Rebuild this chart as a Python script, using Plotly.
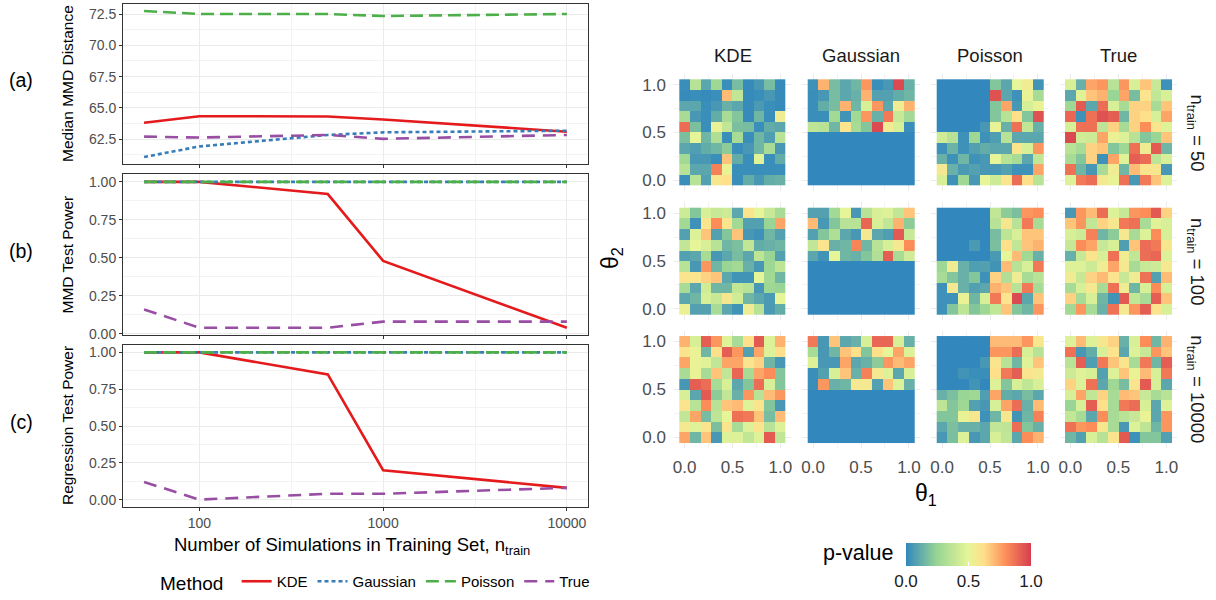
import math
import plotly.graph_objects as go

# ---------------- data: left panels ----------------
n_train = [50, 100, 500, 1000, 10000]
methods = ["KDE", "Gaussian", "Poisson", "True"]

mmd_dist_kde = [63.82, 64.34, 64.32, 64.08, 63.10]
mmd_dist_gauss = [61.08, 61.92, 62.84, 63.05, 63.18]
mmd_dist_poisson = [72.74, 72.50, 72.50, 72.34, 72.50]
mmd_dist_true = [62.71, 62.63, 62.84, 62.53, 62.84]

mmd_power_kde = [1.0, 1.0, 0.92, 0.48, 0.04]
mmd_power_gauss = [1.0, 1.0, 1.0, 1.0, 1.0]
mmd_power_poisson = [1.0, 1.0, 1.0, 1.0, 1.0]
mmd_power_true = [0.16, 0.04, 0.04, 0.08, 0.08]

reg_power_kde = [1.0, 1.0, 0.85, 0.20, 0.08]
reg_power_gauss = [1.0, 1.0, 1.0, 1.0, 1.0]
reg_power_poisson = [1.0, 1.0, 1.0, 1.0, 1.0]
reg_power_true = [0.12, 0.0, 0.04, 0.04, 0.08]

# ---------------- data: p-value grids (rows listed top theta2=1 -> bottom theta2=0) ----------------
theta = [0.0, 0.111, 0.222, 0.333, 0.444, 0.556, 0.667, 0.778, 0.889, 1.0]
theta_ticks = [0.0, 0.5, 1.0]
theta_ticktext = ["0.0", "0.5", "1.0"]
row_labels = ["50", "100", "10000"]

kde_50 = [
    [0.02, 0.35, 0.10, 0.27, 0.02, 0.17, 0.01, 0.05, 0.17, 0.01],
    [0.01, 0.02, 0.01, 0.02, 0.70, 0.38, 0.01, 0.02, 0.05, 0.01],
    [0.10, 0.10, 0.02, 0.05, 0.13, 0.10, 0.01, 0.06, 0.02, 0.01],
    [0.30, 0.05, 0.02, 0.12, 0.30, 0.20, 0.01, 0.15, 0.02, 0.55],
    [0.88, 0.18, 0.02, 0.52, 0.38, 0.18, 0.17, 0.02, 0.12, 0.10],
    [0.18, 0.50, 0.15, 0.32, 0.02, 0.30, 0.02, 0.15, 0.07, 0.35],
    [0.10, 0.07, 0.12, 0.15, 0.22, 0.02, 0.05, 0.15, 0.30, 0.05],
    [0.28, 0.05, 0.05, 0.02, 0.68, 0.12, 0.02, 0.48, 0.02, 0.12],
    [0.35, 0.10, 0.10, 0.83, 0.52, 0.02, 0.02, 0.02, 0.02, 0.02],
    [0.02, 0.35, 0.08, 0.58, 0.62, 0.02, 0.12, 0.05, 0.12, 0.13],
]
gauss_50 = [
    [0.03, 0.72, 0.17, 0.10, 0.15, 0.78, 0.02, 0.05, 0.97, 0.13],
    [0.02, 0.05, 0.17, 0.10, 0.13, 0.72, 0.08, 0.08, 0.12, 0.15],
    [0.02, 0.12, 0.17, 0.72, 0.15, 0.45, 0.78, 0.10, 0.55, 0.72],
    [0.02, 0.02, 0.28, 0.04, 0.28, 0.78, 0.13, 0.85, 0.40, 0.28],
    [0.37, 0.35, 0.15, 0.60, 0.30, 0.20, 0.97, 0.55, 0.45, 0.02],
    [0.0] * 10,
    [0.0] * 10,
    [0.0] * 10,
    [0.0] * 10,
    [0.0] * 10,
]
poisson_50 = [
    [0.0, 0.0, 0.0, 0.0, 0.0, 0.20, 0.10, 0.50, 0.55, 0.04],
    [0.0, 0.0, 0.0, 0.0, 0.0, 0.95, 0.10, 0.03, 0.52, 0.30],
    [0.0, 0.0, 0.0, 0.0, 0.0, 0.20, 0.75, 0.05, 0.45, 0.52],
    [0.0, 0.0, 0.0, 0.0, 0.0, 0.20, 0.35, 0.62, 0.20, 0.95],
    [0.0, 0.0, 0.0, 0.0, 0.05, 0.52, 0.13, 0.87, 0.38, 0.13],
    [0.43, 0.35, 0.03, 0.27, 0.03, 0.07, 0.35, 0.10, 0.10, 0.10],
    [0.03, 0.14, 0.03, 0.08, 0.12, 0.10, 0.10, 0.60, 0.45, 0.78],
    [0.13, 0.03, 0.15, 0.03, 0.05, 0.50, 0.35, 0.30, 0.10, 0.38],
    [0.57, 0.13, 0.06, 0.08, 0.05, 0.05, 0.08, 0.03, 0.03, 0.75],
    [0.45, 0.03, 0.27, 0.05, 0.50, 0.42, 0.60, 0.88, 0.62, 0.35],
]
true_50 = [
    [0.45, 0.13, 0.75, 0.78, 0.35, 0.78, 0.45, 0.68, 0.40, 0.03],
    [0.10, 0.48, 0.68, 0.72, 0.25, 0.75, 0.17, 0.60, 0.38, 0.45],
    [0.27, 0.93, 0.10, 0.88, 0.45, 0.30, 0.65, 0.65, 0.30, 0.68],
    [0.90, 0.03, 0.87, 0.95, 0.92, 0.15, 0.65, 0.62, 0.45, 0.75],
    [0.45, 0.87, 0.87, 0.37, 0.65, 0.30, 0.65, 0.80, 0.60, 0.48],
    [0.97, 0.43, 0.42, 0.75, 0.53, 0.47, 0.35, 0.20, 0.25, 0.68],
    [0.35, 0.30, 0.65, 0.68, 0.20, 0.27, 0.87, 0.55, 0.93, 0.15],
    [0.30, 0.20, 0.65, 0.03, 0.75, 0.48, 0.92, 0.88, 0.37, 0.45],
    [0.87, 0.15, 0.05, 0.30, 0.55, 0.15, 0.70, 0.60, 0.58, 0.05],
    [0.47, 0.85, 0.88, 0.57, 0.52, 0.87, 0.05, 0.85, 0.68, 0.47],
]
kde_100 = [
    [0.42, 0.20, 0.45, 0.40, 0.42, 0.10, 0.60, 0.50, 0.40, 0.30],
    [0.28, 0.03, 0.60, 0.80, 0.60, 0.28, 0.08, 0.08, 0.25, 0.75],
    [0.08, 0.47, 0.68, 0.08, 0.20, 0.68, 0.05, 0.03, 0.15, 0.08],
    [0.38, 0.50, 0.45, 0.35, 0.15, 0.18, 0.38, 0.12, 0.13, 0.15],
    [0.08, 0.10, 0.30, 0.05, 0.10, 0.17, 0.10, 0.37, 0.25, 0.08],
    [0.35, 0.05, 0.78, 0.15, 0.25, 0.28, 0.13, 0.05, 0.27, 0.37],
    [0.60, 0.60, 0.65, 0.68, 0.10, 0.04, 0.04, 0.50, 0.28, 0.15],
    [0.30, 0.10, 0.43, 0.15, 0.15, 0.38, 0.35, 0.05, 0.27, 0.25],
    [0.10, 0.15, 0.45, 0.40, 0.58, 0.43, 0.15, 0.10, 0.06, 0.50],
    [0.53, 0.08, 0.08, 0.30, 0.10, 0.04, 0.55, 0.35, 0.06, 0.12],
]
gauss_100 = [
    [0.08, 0.08, 0.28, 0.50, 0.05, 0.35, 0.45, 0.47, 0.38, 0.68],
    [0.70, 0.05, 0.20, 0.35, 0.35, 0.90, 0.45, 0.38, 0.72, 0.22],
    [0.08, 0.20, 0.32, 0.10, 0.05, 0.57, 0.10, 0.07, 0.93, 0.40],
    [0.38, 0.60, 0.13, 0.15, 0.82, 0.15, 0.35, 0.45, 0.57, 0.80],
    [0.10, 0.04, 0.50, 0.15, 0.13, 0.20, 0.33, 0.92, 0.30, 0.43],
    [0.0] * 10,
    [0.0] * 10,
    [0.0] * 10,
    [0.0] * 10,
    [0.0] * 10,
]
poisson_100 = [
    [0.0, 0.0, 0.0, 0.0, 0.0, 0.38, 0.22, 0.18, 0.78, 0.80],
    [0.0, 0.0, 0.0, 0.0, 0.0, 0.35, 0.58, 0.35, 0.85, 0.30],
    [0.0, 0.0, 0.0, 0.0, 0.0, 0.17, 0.37, 0.45, 0.68, 0.68],
    [0.0, 0.0, 0.0, 0.06, 0.0, 0.18, 0.62, 0.38, 0.68, 0.72],
    [0.0, 0.0, 0.0, 0.0, 0.0, 0.06, 0.50, 0.70, 0.28, 0.13],
    [0.27, 0.55, 0.13, 0.07, 0.08, 0.04, 0.70, 0.35, 0.45, 0.85],
    [0.30, 0.20, 0.13, 0.20, 0.03, 0.65, 0.33, 0.55, 0.30, 0.35],
    [0.03, 0.57, 0.13, 0.08, 0.10, 0.72, 0.68, 0.35, 0.85, 0.30],
    [0.03, 0.03, 0.52, 0.15, 0.45, 0.85, 0.60, 0.97, 0.10, 0.68],
    [0.03, 0.20, 0.37, 0.20, 0.27, 0.38, 0.68, 0.20, 0.15, 0.78],
]
true_100 = [
    [0.05, 0.78, 0.70, 0.88, 0.47, 0.40, 0.78, 0.80, 0.93, 0.65],
    [0.68, 0.78, 0.38, 0.65, 0.58, 0.85, 0.87, 0.30, 0.48, 0.45],
    [0.45, 0.42, 0.83, 0.15, 0.22, 0.57, 0.30, 0.47, 0.80, 0.45],
    [0.40, 0.80, 0.75, 0.40, 0.45, 0.07, 0.68, 0.88, 0.85, 0.58],
    [0.13, 0.40, 0.60, 0.45, 0.87, 0.55, 0.38, 0.88, 0.90, 0.47],
    [0.47, 0.47, 0.42, 0.55, 0.75, 0.57, 0.30, 0.40, 0.42, 0.57],
    [0.55, 0.40, 0.65, 0.70, 0.60, 0.40, 0.55, 0.87, 0.08, 0.70],
    [0.30, 0.45, 0.57, 0.30, 0.87, 0.55, 0.15, 0.45, 0.80, 0.45],
    [0.65, 0.30, 0.45, 0.15, 0.04, 0.93, 0.38, 0.30, 0.92, 0.68],
    [0.28, 0.78, 0.30, 0.13, 0.87, 0.57, 0.78, 0.92, 0.60, 0.45],
]
kde_10000 = [
    [0.72, 0.45, 0.92, 0.78, 0.48, 0.30, 0.62, 0.93, 0.47, 0.72],
    [0.60, 0.52, 0.15, 0.62, 0.92, 0.78, 0.08, 0.75, 0.47, 0.62],
    [0.75, 0.52, 0.48, 0.38, 0.75, 0.75, 0.60, 0.65, 0.15, 0.05],
    [0.30, 0.52, 0.30, 0.68, 0.38, 0.90, 0.30, 0.75, 0.80, 0.20],
    [0.05, 0.92, 0.88, 0.30, 0.45, 0.10, 0.20, 0.88, 0.45, 0.20],
    [0.45, 0.10, 0.93, 0.22, 0.38, 0.13, 0.78, 0.35, 0.70, 0.78],
    [0.60, 0.35, 0.80, 0.35, 0.68, 0.70, 0.48, 0.60, 0.20, 0.05],
    [0.38, 0.75, 0.17, 0.37, 0.50, 0.87, 0.85, 0.68, 0.17, 0.70],
    [0.57, 0.48, 0.60, 0.18, 0.60, 0.30, 0.47, 0.60, 0.35, 0.47],
    [0.75, 0.15, 0.68, 0.05, 0.47, 0.47, 0.38, 0.47, 0.93, 0.38],
]
gauss_10000 = [
    [0.85, 0.05, 0.68, 0.10, 0.13, 0.45, 0.90, 0.90, 0.45, 0.13],
    [0.30, 0.05, 0.15, 0.68, 0.62, 0.20, 0.62, 0.50, 0.75, 0.47],
    [0.47, 0.05, 0.05, 0.75, 0.10, 0.13, 0.22, 0.78, 0.70, 0.75],
    [0.02, 0.08, 0.45, 0.68, 0.13, 0.83, 0.57, 0.47, 0.10, 0.45],
    [0.02, 0.78, 0.13, 0.15, 0.57, 0.57, 0.08, 0.68, 0.47, 0.13],
    [0.0] * 10,
    [0.0] * 10,
    [0.0] * 10,
    [0.0] * 10,
    [0.0] * 10,
]
poisson_10000 = [
    [0.0, 0.0, 0.0, 0.0, 0.0, 0.70, 0.70, 0.70, 0.78, 0.58],
    [0.0, 0.0, 0.0, 0.0, 0.0, 0.78, 0.78, 0.88, 0.45, 0.35],
    [0.0, 0.0, 0.0, 0.0, 0.05, 0.60, 0.35, 0.15, 0.48, 0.68],
    [0.0, 0.0, 0.04, 0.02, 0.02, 0.62, 0.85, 0.92, 0.60, 0.57],
    [0.0, 0.0, 0.0, 0.04, 0.0, 0.47, 0.20, 0.45, 0.38, 0.45],
    [0.13, 0.18, 0.25, 0.27, 0.07, 0.75, 0.12, 0.10, 0.17, 0.10],
    [0.37, 0.20, 0.27, 0.08, 0.05, 0.45, 0.75, 0.88, 0.13, 0.70],
    [0.20, 0.20, 0.52, 0.58, 0.03, 0.15, 0.58, 0.04, 0.15, 0.83],
    [0.10, 0.18, 0.13, 0.13, 0.10, 0.38, 0.37, 0.88, 0.20, 0.13],
    [0.05, 0.18, 0.47, 0.05, 0.10, 0.45, 0.38, 0.10, 0.80, 0.72],
]
true_10000 = [
    [0.47, 0.70, 0.47, 0.58, 0.65, 0.13, 0.45, 0.80, 0.15, 0.72],
    [0.87, 0.05, 0.12, 0.45, 0.60, 0.10, 0.47, 0.40, 0.78, 0.68],
    [0.35, 0.92, 0.07, 0.85, 0.68, 0.60, 0.30, 0.85, 0.15, 0.92],
    [0.42, 0.48, 0.45, 0.08, 0.47, 0.68, 0.52, 0.70, 0.45, 0.85],
    [0.65, 0.47, 0.87, 0.10, 0.27, 0.17, 0.60, 0.93, 0.45, 0.10],
    [0.45, 0.75, 0.38, 0.65, 0.30, 0.70, 0.68, 0.40, 0.30, 0.35],
    [0.25, 0.45, 0.92, 0.62, 0.30, 0.85, 0.88, 0.45, 0.10, 0.47],
    [0.38, 0.30, 0.10, 0.80, 0.30, 0.35, 0.40, 0.52, 0.10, 0.78],
    [0.87, 0.78, 0.80, 0.58, 0.30, 0.05, 0.47, 0.37, 0.15, 0.78],
    [0.15, 0.08, 0.45, 0.35, 0.60, 0.93, 0.03, 0.20, 0.20, 0.08],
]

# ---------------- styling ----------------
FONT = "Liberation Sans, Arial, Helvetica, sans-serif"
W, H = 1216, 600
TICK_GREY = "#4D4D4D"
GRID = "#EBEBEB"


def fx(px):
    return px / W


def fy(px):
    return 1 - px / H


def note(text, xpx, ypx, size, color="black", angle=0):
    return dict(text=text, x=fx(xpx), y=fy(ypx), xref="paper", yref="paper",
                xanchor="center", yanchor="middle", showarrow=False, textangle=angle,
                font=dict(size=size, color=color, family=FONT))


line_styles = {
    "KDE": dict(color="#E41A1C", dash="solid"),
    "Gaussian": dict(color="#377EB8", dash="4px,3px"),
    "Poisson": dict(color="#4DAF4A", dash="13px,6px"),
    "True": dict(color="#984EA3", dash="13px,8px"),
}

left_panels = [
    dict(series=[mmd_dist_kde, mmd_dist_gauss, mmd_dist_poisson, mmd_dist_true],
         rows=(4, 164), yrange=[60.52, 73.3],
         tickvals=[62.5, 65.0, 67.5, 70.0, 72.5], ticktext=["62.5", "65.0", "67.5", "70.0", "72.5"],
         minor=1.25, label="(a)", title="Median MMD Distance"),
    dict(series=[mmd_power_kde, mmd_power_gauss, mmd_power_poisson, mmd_power_true],
         rows=(174, 335), yrange=[-0.008, 1.052],
         tickvals=[0, 0.25, 0.5, 0.75, 1.0], ticktext=["0.00", "0.25", "0.50", "0.75", "1.00"],
         minor=0.125, label="(b)", title="MMD Test Power"),
    dict(series=[reg_power_kde, reg_power_gauss, reg_power_poisson, reg_power_true],
         rows=(345, 507), yrange=[-0.05, 1.05],
         tickvals=[0, 0.25, 0.5, 0.75, 1.0], ticktext=["0.00", "0.25", "0.50", "0.75", "1.00"],
         minor=0.125, label="(c)", title="Regression Test Power"),
]

fig = go.Figure()
layout = {}
annotations = []

xlog_range = [math.log10(38.4), math.log10(13030)]
for i, p in enumerate(left_panels):
    k = i + 1
    xa = "xaxis" if k == 1 else f"xaxis{k}"
    ya = "yaxis" if k == 1 else f"yaxis{k}"
    for m, vals in zip(methods, p["series"]):
        st = line_styles[m]
        fig.add_trace(go.Scatter(
            x=n_train, y=vals, mode="lines", name=m,
            line=dict(color=st["color"], dash=st["dash"], width=2.6),
            showlegend=(k == 1), legendgroup=m,
            xaxis=f"x{k}" if k > 1 else "x", yaxis=f"y{k}" if k > 1 else "y",
            hoverinfo="skip",
        ))
    layout[xa] = dict(
        domain=[fx(123), fx(588)], anchor=f"y{k}" if k > 1 else "y",
        type="log", range=xlog_range,
        tickvals=[100, 1000, 10000], ticktext=["100", "1000", "10000"],
        showticklabels=(k == 3), ticks="outside", ticklen=3, tickcolor="#333333",
        tickfont=dict(size=14, color=TICK_GREY, family=FONT),
        showgrid=True, gridcolor=GRID, gridwidth=1.1,
        minor=dict(tickvals=[316.23, 3162.3], showgrid=True, gridcolor="#F3F3F3", gridwidth=0.6, ticks=""),
        showline=True, mirror=True, linecolor="#333333", linewidth=1, zeroline=False,
    )
    layout[ya] = dict(
        domain=[fy(p["rows"][1]), fy(p["rows"][0])], anchor=f"x{k}" if k > 1 else "x",
        range=p["yrange"], tickvals=p["tickvals"], ticktext=p["ticktext"],
        ticks="outside", ticklen=3, tickcolor="#333333",
        tickfont=dict(size=14, color=TICK_GREY, family=FONT),
        showgrid=True, gridcolor=GRID, gridwidth=1.1,
        minor=dict(dtick=p["minor"], tick0=p["tickvals"][0] - p["minor"], showgrid=True,
                   gridcolor="#F3F3F3", gridwidth=0.6, ticks=""),
        showline=True, mirror=True, linecolor="#333333", linewidth=1, zeroline=False,
    )
    mid = (p["rows"][0] + p["rows"][1]) / 2
    annotations.append(note(p["label"], 21, mid - 4, 19.5))
    annotations.append(note(p["title"], 67, mid, 15.5, angle=-90))

annotations.append(note("Number of Simulations in Training Set, n<sub>train</sub>", 352, 546, 18.5))

# ---------------- heatmap facets ----------------
grids = [
    [kde_50, gauss_50, poisson_50, true_50],
    [kde_100, gauss_100, poisson_100, true_100],
    [kde_10000, gauss_10000, poisson_10000, true_10000],
]
col_px = [(674, 791), (802.4, 919.6), (931.4, 1048.6), (1059.7, 1177)]
row_px = [(74, 191), (202.4, 319.6), (330.7, 448)]

k = 4
for r in range(3):
    for c in range(4):
        grid = grids[r][c]
        fig.add_trace(go.Heatmap(
            z=grid[::-1], x=theta, y=theta, coloraxis="coloraxis",
            xaxis=f"x{k}", yaxis=f"y{k}", hoverinfo="skip", xgap=0, ygap=0,
        ))
        layout[f"xaxis{k}"] = dict(
            domain=[fx(col_px[c][0]), fx(col_px[c][1])], anchor=f"y{k}",
            range=[-0.111, 1.111], tickvals=theta_ticks, ticktext=theta_ticktext,
            showticklabels=(r == 2), ticks="", ticklabelstandoff=7,
            tickfont=dict(size=17, color=TICK_GREY, family=FONT),
            showgrid=True, gridcolor=GRID, gridwidth=1.2,
            minor=dict(tickvals=[0.25, 0.75], showgrid=True, gridcolor="#F3F3F3", gridwidth=0.7),
            showline=False, zeroline=False,
        )
        layout[f"yaxis{k}"] = dict(
            domain=[fy(row_px[r][1]), fy(row_px[r][0])], anchor=f"x{k}",
            range=[-0.111, 1.111], tickvals=theta_ticks, ticktext=theta_ticktext,
            showticklabels=(c == 0), ticks="", ticklabelstandoff=7,
            tickfont=dict(size=17, color=TICK_GREY, family=FONT),
            showgrid=True, gridcolor=GRID, gridwidth=1.2,
            minor=dict(tickvals=[0.25, 0.75], showgrid=True, gridcolor="#F3F3F3", gridwidth=0.7),
            showline=False, zeroline=False,
        )
        k += 1

for c, m in enumerate(methods):
    annotations.append(note(m, (col_px[c][0] + col_px[c][1]) / 2, 55, 18.5, "#1A1A1A"))
for r, lab in enumerate(row_labels):
    annotations.append(note(f"n<sub>train</sub> = {lab}", 1196,
                            (row_px[r][0] + row_px[r][1]) / 2, 18.5, "#1A1A1A", angle=90))

annotations.append(note("θ<sub>2</sub>", 612, 258, 23, angle=-90))
annotations.append(note("θ<sub>1</sub>", 926, 494, 23))
annotations.append(note("p-value", 858, 553, 21.5))

spectral = [
    [0.0, "#3288BD"],
    [0.25, "#99D594"],
    [0.5, "#E6F598"],
    [0.62, "#FEE08B"],
    [0.8, "#FC8D59"],
    [1.0, "#D53E4F"],
]

fig.update_layout(
    width=W, height=H,
    margin=dict(l=0, r=0, t=0, b=0, autoexpand=False),
    paper_bgcolor="white", plot_bgcolor="white",
    font=dict(family=FONT, color="black"),
    annotations=annotations,
    coloraxis=dict(
        cmin=0, cmax=1, colorscale=spectral,
        colorbar=dict(
            orientation="h", x=fx(968.5), xanchor="center", y=fy(543), yanchor="top",
            len=125, lenmode="pixels", thickness=23, outlinewidth=0, xpad=0, ypad=0,
            tickvals=[0, 0.5, 1.0], ticktext=["0.0", "0.5", "1.0"],
            ticks="inside", tickcolor="white", ticklen=4,
            tickfont=dict(size=17, color="#1A1A1A", family=FONT),
        ),
    ),
    legend=dict(
        orientation="h", x=fx(158), xanchor="left", y=0.0, yanchor="bottom",
        title=dict(text="Method ", font=dict(size=19, color="black", family=FONT), side="left"),
        font=dict(size=15, color="black", family=FONT),
        itemwidth=30, tracegroupgap=0, bgcolor="rgba(0,0,0,0)",
    ),
    **layout,
)

fig.write_html("out.html")
